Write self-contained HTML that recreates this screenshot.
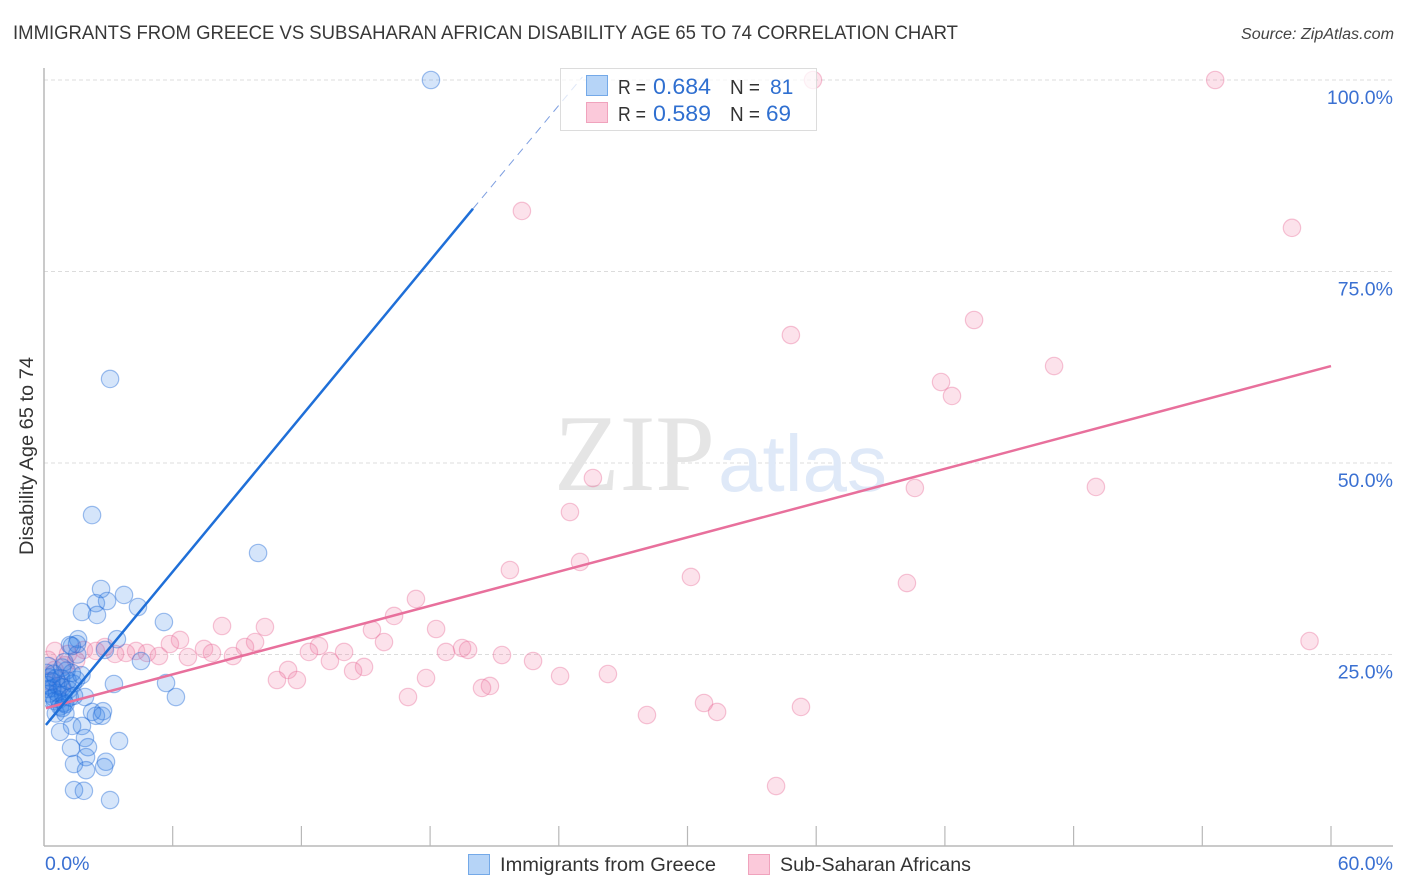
<!DOCTYPE html>
<html lang="en">
<head>
<meta charset="utf-8">
<title>Immigrants from Greece vs Subsaharan African Disability Age 65 to 74 Correlation Chart</title>
<style>
html,body{margin:0;padding:0;background:#fff;}
svg{display:block;font-family:"Liberation Sans",sans-serif;}
</style>
</head>
<body>
<svg id="chart" width="1406" height="892" viewBox="0 0 1406 892" xmlns="http://www.w3.org/2000/svg">
  <defs>
    <clipPath id="plot-clip"><rect x="45" y="60" width="1350" height="786"/></clipPath>
  </defs>
  <rect x="0" y="0" width="1406" height="892" fill="#ffffff"/>
  <text x="13" y="39" font-size="19.5" fill="#383838" textLength="945" lengthAdjust="spacingAndGlyphs">IMMIGRANTS FROM GREECE VS SUBSAHARAN AFRICAN DISABILITY AGE 65 TO 74 CORRELATION CHART</text>
  <text x="1394" y="39" font-size="15.5" font-style="italic" fill="#444" text-anchor="end" textLength="153" lengthAdjust="spacingAndGlyphs">Source: ZipAtlas.com</text>
  <g id="grid"></g>
  <g>
    <text x="554" y="490" font-family="'Liberation Serif',serif" font-size="109" fill="#e5e5e5" textLength="161" lengthAdjust="spacingAndGlyphs">ZIP</text>
    <text x="718" y="491" font-size="80" fill="#dfe9f8" textLength="169" lengthAdjust="spacingAndGlyphs">atlas</text>
  </g>
  <g id="axes"></g>
  <g id="pink-points" clip-path="url(#plot-clip)"></g>
  <g id="blue-points" clip-path="url(#plot-clip)"></g>
  <g id="trends"></g>
  <g id="tick-labels"></g>
  <text transform="translate(33,456) rotate(-90)" font-size="19" fill="#333" text-anchor="middle" textLength="198" lengthAdjust="spacingAndGlyphs">Disability Age 65 to 74</text>

  <g>
    <rect x="560.5" y="68.5" width="256" height="62" fill="#ffffff" fill-opacity="0.75" stroke="#dcdcdc" stroke-width="1"/>
    <rect x="586.5" y="75.5" width="21" height="20" fill="#b6d4f7" stroke="#74a9e8" stroke-width="1"/>
    <rect x="586.5" y="102.5" width="21" height="20" fill="#fbc9da" stroke="#f0a3bd" stroke-width="1"/>
    <text x="618" y="94" font-size="20" fill="#333" textLength="28" lengthAdjust="spacingAndGlyphs">R =</text>
    <text x="653" y="94" font-size="22" fill="#2f6fd0" textLength="58" lengthAdjust="spacingAndGlyphs">0.684</text>
    <text x="730" y="94" font-size="20" fill="#333" textLength="30" lengthAdjust="spacingAndGlyphs">N =</text>
    <text x="770" y="94" font-size="21" fill="#2f6fd0">81</text>
    <text x="618" y="121" font-size="20" fill="#333" textLength="28" lengthAdjust="spacingAndGlyphs">R =</text>
    <text x="653" y="121" font-size="22" fill="#2f6fd0" textLength="58" lengthAdjust="spacingAndGlyphs">0.589</text>
    <text x="730" y="121" font-size="20" fill="#333" textLength="30" lengthAdjust="spacingAndGlyphs">N =</text>
    <text x="766" y="121" font-size="22" fill="#2f6fd0" textLength="25" lengthAdjust="spacingAndGlyphs">69</text>
  </g>

  <g>
    <rect x="468.5" y="854.5" width="21" height="20" fill="#b6d4f7" stroke="#74a9e8" stroke-width="1"/>
    <text x="500" y="871" font-size="19.5" fill="#333" textLength="216" lengthAdjust="spacingAndGlyphs">Immigrants from Greece</text>
    <rect x="748.5" y="854.5" width="21" height="20" fill="#fbc9da" stroke="#f0a3bd" stroke-width="1"/>
    <text x="780" y="871" font-size="19.5" fill="#333" textLength="191" lengthAdjust="spacingAndGlyphs">Sub-Saharan Africans</text>
  </g>
</svg>
<script>
const xTickValues = [0, 6, 12, 18, 24, 30, 36, 42, 48, 54, 60];
const yGridValues = [25, 50, 75, 100];
const yTickLabels = ['25.0%', '50.0%', '75.0%', '100.0%'];
const xEdgeValues = [0, 60];
const xEdgeLabels = ['0.0%', '60.0%'];

const greeceX = [18.04,3.08,2.24,9.98,2.66,3.73,2.42,2.94,4.38,1.77,2.47,5.59,3.4,1.59,1.21,1.54,2.84,4.52,3.26,5.69,6.15,1.91,
  2.75,2.24,2.42,2.7,1.77,1.31,0.75,3.5,1.91,2.05,1.26,1.96,2.89,2.8,1.4,1.96,1.4,1.86,3.08,
  0.2,0.12,0.25,0.15,0.2,0.25,0.3,0.4,0.45,0.5,0.55,0.65,0.6,0.7,0.75,0.55,0.8,0.85,0.9,0.95,0.85,1.05,1.1,1.15,1.2,1.0,1.3,1.35,1.4,1.5,1.0,1.55,1.75,0.85,1.3,0.95,0.35,0.45];
const greeceY = [100,60.97,43.2,38.25,33.55,32.77,31.7,31.98,31.2,30.55,30.16,29.24,27.0,27.0,26.24,26.37,25.6,24.15,21.15,21.28,19.45,19.45,
  17.6,17.5,17.0,17.0,15.67,15.67,14.9,13.7,14.1,12.9,12.8,11.6,11.0,10.3,10.7,9.9,7.3,7.2,6.0,
  23.5,22.6,22.0,21.0,20.5,19.9,19.2,20.6,19.4,18.9,21.9,20.9,20.0,19.1,18.2,17.3,21.9,20.7,19.7,18.7,18.0,22.9,21.6,20.4,19.4,18.5,22.6,21.2,19.6,21.7,17.3,25.0,22.3,23.3,26.1,24.0,21.5,22.5];

const saharanX = [35.85,54.6,22.28,58.18,34.82,43.36,47.09,41.82,42.33,25.59,40.6,49.04,24.52,21.72,24.99,30.16,40.23,17.34,16.32,8.3,10.3,15.29,18.28,59.0,6.34,9.84,12.82,15.85,5.87,7.46,9.37,19.49,19.77,18.74,21.35,13.99,12.35,7.83,8.81,6.71,5.36,4.8,4.29,3.82,3.31,2.84,2.42,1.86,0.51,1.12,13.33,22.8,14.92,14.41,11.38,10.86,11.79,17.81,24.06,26.29,20.79,20.42,16.97,30.77,31.38,28.11,35.29,34.13,0.19,0.5,1.0,1.5,0.2,0.8];
const saharanY = [100,100,82.9,80.7,66.7,68.67,62.66,60.57,58.75,48.04,46.74,46.87,43.6,36.03,37.08,35.12,34.33,32.25,30.03,28.72,28.59,28.2,28.33,26.76,26.9,26.63,26.1,26.63,26.37,25.72,25.98,25.85,25.6,25.33,24.93,25.33,25.33,25.2,24.8,24.67,24.8,25.2,25.46,25.2,25.07,25.98,25.46,25.6,25.46,25.07,24.15,24.15,23.37,22.85,22.98,21.67,21.67,21.93,22.19,22.45,20.89,20.63,19.45,18.67,17.5,17.1,18.15,7.83,24.3,23.0,23.6,24.2,21.5,21.0];

const greeceTrendX = [0.09, 20];
const greeceTrendY = [15.8, 83.2];
const greeceDashX = [20, 25.1];
const greeceDashY = [83.2, 100.4];
const saharanTrendX = [0.09, 60];
const saharanTrendY = [18.0, 62.66];

const NS = 'http://www.w3.org/2000/svg';
const PLOT = { left: 44, right: 1331, top: 80, bottom: 846, edge: 1393 };
function xAxis(v) { return PLOT.left + (v / 60) * (PLOT.right - PLOT.left); }
function yAxis(v) { return PLOT.bottom - (v / 100) * (PLOT.bottom - PLOT.top); }
function make(tag, parent, attrs) {
  const el = document.createElementNS(NS, tag);
  for (const k in attrs) el.setAttribute(k, attrs[k]);
  parent.appendChild(el);
  return el;
}

const grid = document.getElementById('grid');
yGridValues.forEach(function (v) {
  const el = make('line', grid, { x1: PLOT.left, x2: PLOT.edge, y1: yAxis(v), y2: yAxis(v), stroke: '#dcdcdc', 'stroke-width': 1, 'stroke-dasharray': '4 3' });
  
  
});

const axes = document.getElementById('axes');
const yLine = make('line', axes, { x1: PLOT.left, x2: PLOT.left, y1: 68, y2: PLOT.bottom, stroke: '#b8b8b8', 'stroke-width': 1.5 });


const xLine = make('line', axes, { x1: PLOT.left, x2: PLOT.edge, y1: PLOT.bottom, y2: PLOT.bottom, stroke: '#b8b8b8', 'stroke-width': 1.5 });


xTickValues.forEach(function (v) {
  if (v === 0) return;
  const el = make('line', axes, { x1: xAxis(v), x2: xAxis(v), y1: 826, y2: PLOT.bottom, stroke: '#b8b8b8', 'stroke-width': 1.2 });
  
  
});

const pinkLayer = document.getElementById('pink-points');
saharanX.forEach(function (v, i) {
  const el = make('circle', pinkLayer, { cx: xAxis(v), cy: yAxis(saharanY[i]), r: 8.7, fill: 'rgba(240,125,165,0.22)', stroke: 'rgba(232,105,150,0.38)', 'stroke-width': 1.2 });
  
  
});

const blueLayer = document.getElementById('blue-points');
greeceX.forEach(function (v, i) {
  const el = make('circle', blueLayer, { cx: xAxis(v), cy: yAxis(greeceY[i]), r: 8.7, fill: 'rgba(45,125,230,0.2)', stroke: 'rgba(30,105,215,0.42)', 'stroke-width': 1.2 });
  
  
});

const trends = document.getElementById('trends');
const saharanLine = make('line', trends, { x1: xAxis(saharanTrendX[0]), y1: yAxis(saharanTrendY[0]), x2: xAxis(saharanTrendX[1]), y2: yAxis(saharanTrendY[1]), stroke: '#e8709c', 'stroke-width': 2.5 });


const greeceLine = make('line', trends, { x1: xAxis(greeceTrendX[0]), y1: yAxis(greeceTrendY[0]), x2: xAxis(greeceTrendX[1]), y2: yAxis(greeceTrendY[1]), stroke: '#1f6fd8', 'stroke-width': 2.5 });


const greeceDash = make('line', trends, { x1: xAxis(greeceDashX[0]), y1: yAxis(greeceDashY[0]), x2: xAxis(greeceDashX[1]), y2: yAxis(greeceDashY[1]), stroke: '#7d9ee0', 'stroke-width': 1, 'stroke-dasharray': '8 6' });



const labels = document.getElementById('tick-labels');
yGridValues.forEach(function (v, i) {
  const el = make('text', labels, { x: 1393, y: yAxis(v) + 24, 'font-size': 19.5, fill: '#3a70d2', 'text-anchor': 'end' });
  
  
  el.textContent = yTickLabels[i];
});
xEdgeValues.forEach(function (v, i) {
  const el = make('text', labels, { x: v === 0 ? 45 : 1393, y: 870, 'font-size': 19.5, fill: '#3a70d2', 'text-anchor': v === 0 ? 'start' : 'end' });
  
  
  el.textContent = xEdgeLabels[i];
});
</script>
</body>
</html>
